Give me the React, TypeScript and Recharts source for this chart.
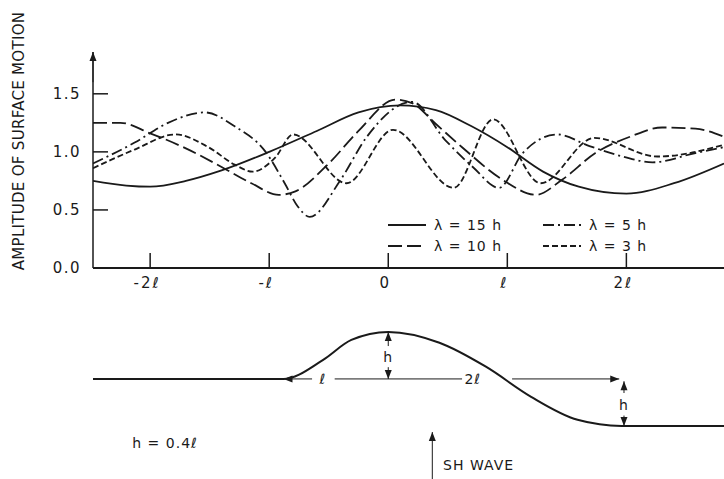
import React from "react";
import {
  LineChart,
  Line,
  XAxis,
  YAxis,
  Legend,
  ReferenceLine,
  ReferenceDot,
} from "recharts";

// x in units of l, amplitude unitless
const X_DOMAIN = [-2.48, 2.82];
const X_TICKS = [-2, -1, 0, 1, 2];
const X_TICK_LABELS = ["-2ℓ", "-ℓ", "0", "ℓ", "2ℓ"];
const Y_TICKS = [0, 0.5, 1.0, 1.5];
const Y_TICK_LABELS = ["0.0", "0.5", "1.0", "1.5"];

const lambda15 = [
  { x: -2.48, y: 0.75 }, { x: -2.2, y: 0.71 }, { x: -2.0, y: 0.7 },
  { x: -1.7, y: 0.75 }, { x: -1.4, y: 0.84 }, { x: -1.0, y: 1.0 },
  { x: -0.6, y: 1.18 }, { x: -0.25, y: 1.34 }, { x: 0.1, y: 1.4 },
  { x: 0.4, y: 1.36 }, { x: 0.7, y: 1.22 }, { x: 1.0, y: 1.04 },
  { x: 1.3, y: 0.83 }, { x: 1.6, y: 0.7 }, { x: 2.0, y: 0.64 },
  { x: 2.4, y: 0.73 }, { x: 2.82, y: 0.9 },
];

const lambda10 = [
  { x: -2.48, y: 1.25 }, { x: -2.25, y: 1.25 }, { x: -2.0, y: 1.16 },
  { x: -1.7, y: 1.03 }, { x: -1.4, y: 0.87 }, { x: -1.15, y: 0.73 },
  { x: -0.92, y: 0.63 }, { x: -0.78, y: 0.66 }, { x: -0.5, y: 0.9 },
  { x: -0.25, y: 1.18 }, { x: 0.06, y: 1.45 }, { x: 0.2, y: 1.42 },
  { x: 0.4, y: 1.24 }, { x: 0.62, y: 1.04 }, { x: 0.96, y: 0.76 },
  { x: 1.24, y: 0.63 }, { x: 1.46, y: 0.76 }, { x: 1.74, y: 0.99 },
  { x: 2.03, y: 1.13 }, { x: 2.3, y: 1.21 }, { x: 2.58, y: 1.2 },
  { x: 2.82, y: 1.13 },
];

const lambda5 = [
  { x: -2.48, y: 0.9 }, { x: -2.13, y: 1.08 }, { x: -1.85, y: 1.25 },
  { x: -1.54, y: 1.34 }, { x: -1.29, y: 1.22 }, { x: -1.03, y: 1.0 },
  { x: -0.87, y: 0.73 }, { x: -0.76, y: 0.53 }, { x: -0.66, y: 0.44 },
  { x: -0.4, y: 0.76 }, { x: -0.18, y: 1.13 }, { x: 0.2, y: 1.43 },
  { x: 0.48, y: 1.1 }, { x: 0.71, y: 0.87 }, { x: 0.93, y: 0.69 },
  { x: 1.13, y: 0.99 }, { x: 1.42, y: 1.15 }, { x: 1.69, y: 1.05 },
  { x: 1.97, y: 0.96 }, { x: 2.22, y: 0.91 }, { x: 2.58, y: 0.99 },
  { x: 2.82, y: 1.04 },
];

const lambda3 = [
  { x: -2.48, y: 0.86 }, { x: -2.13, y: 1.02 }, { x: -1.79, y: 1.15 },
  { x: -1.51, y: 1.04 }, { x: -1.29, y: 0.89 }, { x: -1.14, y: 0.83 },
  { x: -0.95, y: 0.95 }, { x: -0.8, y: 1.15 }, { x: -0.35, y: 0.73 },
  { x: 0.04, y: 1.19 }, { x: 0.55, y: 0.69 }, { x: 0.88, y: 1.28 },
  { x: 1.28, y: 0.73 }, { x: 1.73, y: 1.12 }, { x: 2.26, y: 0.96 },
  { x: 2.82, y: 1.06 },
];

const SERIES = [
  { name: "λ = 15 h", data: lambda15, dash: undefined },
  { name: "λ = 10 h", data: lambda10, dash: "14 5" },
  { name: "λ = 5 h", data: lambda5, dash: "11 4 2 4" },
  { name: "λ = 3 h", data: lambda3, dash: "6 3" },
];

// topography profile, x in l, height in h (h = 0.4 l)
const topography = [
  { x: -2.48, y: 0 }, { x: -0.88, y: 0 }, { x: -0.55, y: 0.4 },
  { x: -0.31, y: 0.83 }, { x: 0, y: 1 }, { x: 0.43, y: 0.77 },
  { x: 0.82, y: 0.26 }, { x: 1.2, y: -0.38 }, { x: 1.59, y: -0.87 },
  { x: 1.96, y: -1 }, { x: 2.82, y: -1 },
];

const INK = "#1a1a1a";
const FONT = "'DejaVu Sans', sans-serif";

const XTick = (props: any) => {
  const { x, y, index } = props;
  return (
    <g>
      <line x1={x} y1={y} x2={x} y2={y - 15} stroke={INK} strokeWidth={1.5} />
      <text x={x - 3} y={y + 20} textAnchor="middle" fontSize={15} fill={INK} fontFamily={FONT} letterSpacing={2}>
        {X_TICK_LABELS[index]}
      </text>
    </g>
  );
};

const YTick = (props: any) => {
  const { x, y, index } = props;
  return (
    <g>
      <line x1={x} y1={y} x2={x + 15} y2={y} stroke={INK} strokeWidth={1.5} />
      <text x={x - 12} y={y + 5} textAnchor="end" fontSize={15} fill={INK} fontFamily={FONT} letterSpacing={1.5}>
        {Y_TICK_LABELS[index]}
      </text>
    </g>
  );
};

const arrowShape = (heads: "start" | "end" | "both" | "none") => (props: any) => {
  const { x1, y1, x2, y2 } = props;
  if ([x1, y1, x2, y2].some((v) => typeof v !== "number")) return <g />;
  const len = Math.hypot(x2 - x1, y2 - y1) || 1;
  const dx = (x2 - x1) / len;
  const dy = (y2 - y1) / len;
  const head = (tx: number, ty: number, ux: number, uy: number) => {
    const bx = tx - ux * 9;
    const by = ty - uy * 9;
    return (
      <polygon
        points={`${tx},${ty} ${bx - uy * 3.5},${by + ux * 3.5} ${bx + uy * 3.5},${by - ux * 3.5}`}
        fill={INK}
      />
    );
  };
  return (
    <g>
      <line x1={x1} y1={y1} x2={x2} y2={y2} stroke={INK} strokeWidth={props.strokeWidth || 1.5} />
      {(heads === "end" || heads === "both") && head(x2, y2, dx, dy)}
      {(heads === "start" || heads === "both") && head(x1, y1, -dx, -dy)}
    </g>
  );
};

const textMark = (value: string, anchor: "start" | "middle" = "middle", size = 14) => (props: any) => (
  <text
    x={props.cx}
    y={props.cy}
    textAnchor={anchor}
    dominantBaseline="central"
    fontSize={size}
    fill={INK}
    fontFamily={FONT}
    letterSpacing={1}
  >
    {value}
  </text>
);

const LegendBox = (props: any) => {
  const order = (v: string) => SERIES.findIndex((d) => d.name === v);
  const items = [...(props.payload || [])].sort((a: any, b: any) => order(a.value) - order(b.value));
  return (
    <div
      style={{
        display: "grid",
        gridTemplateColumns: "155px 110px",
        gridTemplateRows: "21px 21px",
        gridAutoFlow: "column",
        fontFamily: FONT,
        fontSize: 14,
        color: INK,
        letterSpacing: 1,
      }}
    >
      {items.map((it: any) => {
        const s = SERIES[order(it.value)];
        return (
          <div key={it.value} style={{ display: "flex", alignItems: "center", height: 21 }}>
            <svg width={38} height={10} style={{ marginRight: 8 }}>
              <line x1={0} y1={5} x2={38} y2={5} stroke={INK} strokeWidth={2} strokeDasharray={s?.dash} />
            </svg>
            <span>{it.value}</span>
          </div>
        );
      })}
    </div>
  );
};

export default function App() {
  return (
    <div style={{ position: "absolute", left: 0, top: 0, width: 724, height: 479, background: "#fff" }}>
      <LineChart width={724} height={300} margin={{ top: 52, right: 0, bottom: 0, left: 0 }}>
        <XAxis
          type="number"
          dataKey="x"
          domain={X_DOMAIN}
          ticks={X_TICKS}
          allowDataOverflow
          height={32}
          tickSize={0}
          tickMargin={0}
          tickLine={false}
          tick={<XTick />}
          axisLine={{ stroke: INK, strokeWidth: 2 }}
        />
        <YAxis
          type="number"
          dataKey="y"
          domain={[0, 1.86]}
          ticks={Y_TICKS}
          allowDataOverflow
          width={93}
          tickSize={0}
          tickMargin={0}
          tickLine={false}
          tick={<YTick />}
          axisLine={{ stroke: INK, strokeWidth: 1.5 }}
          label={{
            content: () => (
              <text
                x={19}
                y={141}
                transform="rotate(-90 19 141)"
                textAnchor="middle"
                dominantBaseline="central"
                fontSize={15}
                fill={INK}
                fontFamily={FONT}
                letterSpacing={0.3}
              >
                AMPLITUDE OF SURFACE MOTION
              </text>
            ),
          }}
        />
        <ReferenceLine
          segment={[{ x: X_DOMAIN[0], y: 1.6 }, { x: X_DOMAIN[0], y: 1.86 }]}
          ifOverflow="visible"
          shape={arrowShape("end")}
        />
        {SERIES.map((s) => (
          <Line
            key={s.name}
            name={s.name}
            data={s.data}
            dataKey="y"
            type="monotone"
            stroke={INK}
            strokeWidth={1.8}
            strokeDasharray={s.dash}
            dot={false}
            activeDot={false}
            isAnimationActive={false}
          />
        ))}
        <Legend
          layout="horizontal"
          verticalAlign="middle"
          align="center"
          content={<LegendBox />}
          wrapperStyle={{ position: "absolute", left: 388, top: 214, width: 280 }}
        />
      </LineChart>

      <LineChart width={724} height={179} margin={{ top: 0, right: 0, bottom: 0, left: 93 }}>
        <XAxis type="number" dataKey="x" domain={X_DOMAIN} hide allowDataOverflow />
        <YAxis type="number" dataKey="y" domain={[-2.13, 1.68]} hide allowDataOverflow />
        <Line
          data={topography}
          dataKey="y"
          type="monotone"
          stroke={INK}
          strokeWidth={2}
          dot={false}
          activeDot={false}
          isAnimationActive={false}
        />
        {/* l and 2l dimension arrows */}
        <ReferenceLine segment={[{ x: -0.64, y: 0 }, { x: -0.88, y: 0 }]} ifOverflow="visible" shape={arrowShape("end")} />
        <ReferenceLine segment={[{ x: -0.45, y: 0 }, { x: 0.62, y: 0 }]} ifOverflow="visible" shape={arrowShape("none")} />
        <ReferenceLine segment={[{ x: 1.04, y: 0 }, { x: 1.94, y: 0 }]} ifOverflow="visible" shape={arrowShape("end")} />
        <ReferenceDot x={-0.55} y={0} r={0} ifOverflow="visible" shape={textMark("ℓ")} />
        <ReferenceDot x={0.71} y={0} r={0} ifOverflow="visible" shape={textMark("2ℓ")} />
        {/* h arrows */}
        <ReferenceLine segment={[{ x: 0, y: 0.7 }, { x: 0, y: 1 }]} ifOverflow="visible" shape={arrowShape("end")} />
        <ReferenceLine segment={[{ x: 0, y: 0.25 }, { x: 0, y: 0 }]} ifOverflow="visible" shape={arrowShape("end")} />
        <ReferenceDot x={0} y={0.47} r={0} ifOverflow="visible" shape={textMark("h")} />
        <ReferenceLine segment={[{ x: 1.98, y: -0.3 }, { x: 1.98, y: -0.05 }]} ifOverflow="visible" shape={arrowShape("end")} />
        <ReferenceLine segment={[{ x: 1.98, y: -0.78 }, { x: 1.98, y: -1 }]} ifOverflow="visible" shape={arrowShape("end")} />
        <ReferenceDot x={1.98} y={-0.55} r={0} ifOverflow="visible" shape={textMark("h")} />
        {/* incident wave */}
        <ReferenceLine segment={[{ x: 0.37, y: -2.13 }, { x: 0.37, y: -1.13 }]} ifOverflow="visible" shape={arrowShape("end")} />
        <ReferenceDot x={0.46} y={-1.83} r={0} ifOverflow="visible" shape={textMark("SH WAVE", "start")} />
        <ReferenceDot x={-2.15} y={-1.36} r={0} ifOverflow="visible" shape={textMark("h = 0.4ℓ", "start")} />
      </LineChart>
    </div>
  );
}
